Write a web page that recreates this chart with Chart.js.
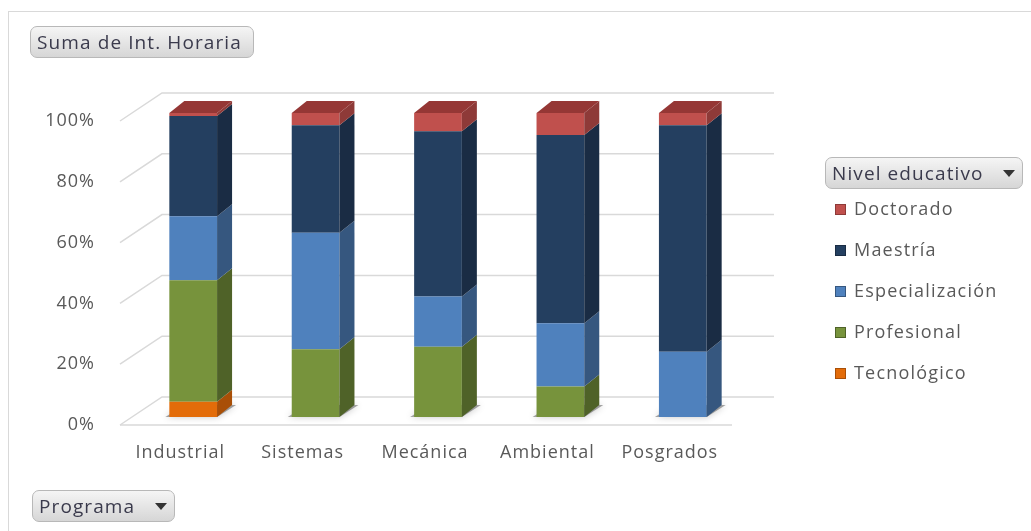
<!DOCTYPE html>
<html>
<head>
<meta charset="utf-8">
<script src="https://cdn.jsdelivr.net/npm/chart.js@4.4.0/dist/chart.umd.min.js"></script>
<style>
  html, body { margin: 0; padding: 0; background: #fff; }
  body { width: 1031px; height: 531px; position: relative; overflow: hidden; font-family: 'Open Sans', sans-serif; }
  #frame { position: absolute; left: 8px; top: 11px; width: 1040px; height: 540px; border: 1px solid #d9d9d9; box-sizing: border-box; }
  #chart { position: absolute; left: 0; top: 0; }
  .btn { position: absolute; height: 32px; box-sizing: border-box; border: 1px solid #b8b8b8; border-radius: 7px;
         background: linear-gradient(#f5f5f5, #d6d6d6); color: #3a3a4c; font-size: 19px; letter-spacing: 1.1px;
         line-height: 30px; padding-left: 6px; white-space: nowrap; }
  .arrow { position: absolute; top: 12px; width: 0; height: 0; border-left: 6px solid transparent; border-right: 6px solid transparent; border-top: 7px solid #333; }
  #legend { position: absolute; left: 835px; top: 188px; }
  .item { position: relative; height: 41px; line-height: 41px; font-size: 18px; letter-spacing: 1.2px; color: #595959; padding-left: 19px; white-space: nowrap; }
  .mark { position: absolute; left: 0; top: 16px; width: 9px; height: 9px; border: 1px solid; }
</style>
</head>
<body>
<div id="frame"></div>
<canvas id="chart" width="1031" height="531"></canvas>
<div class="btn" style="left:30px; top:26px; width:224px;">Suma de Int. Horaria</div>
<div class="btn" style="left:825px; top:157px; width:198px;">Nivel educativo<span class="arrow" style="left:177px"></span></div>
<div class="btn" style="left:32px; top:490px; width:143px;">Programa<span class="arrow" style="left:122px"></span></div>
<div id="legend"></div>
<script>
// categorías (Programa)
const programas = ['Industrial', 'Sistemas', 'Mecánica', 'Ambiental', 'Posgrados'];

// porcentaje de la suma de intensidad horaria por nivel educativo
const tecnologico     = [5,  0,    0,    0,    0];
const profesional     = [40, 22.3, 23.1, 10,   0];
const especializacion = [21, 38.3, 16.5, 20.8, 21.5];
const maestria        = [33, 35.4, 54.4, 62,   74.5];
const doctorado       = [1,  4,    6,    7.2,  4];

const yTicks = [0, 20, 40, 60, 80, 100];

// colores: cara frontal, cara lateral, tapa
const series = [
    { label: 'Tecnológico',     data: tecnologico,     front: '#E36C09', side: '#A94F07', top: '#C55E08' },
    { label: 'Profesional',     data: profesional,     front: '#77933C', side: '#4F6228', top: '#5F7830' },
    { label: 'Especialización', data: especializacion, front: '#4F81BD', side: '#36577F', top: '#3F6A9E' },
    { label: 'Maestría',        data: maestria,        front: '#243F60', side: '#1A2C44', top: '#1E3552' },
    { label: 'Doctorado',       data: doctorado,       front: '#C0504D', side: '#8E3A38', top: '#953735' }
];

// profundidad de las barras y del "cubo" 3D
const DX = 15, DY = 12;
const FX = -12, FY = 8;   // plano frontal respecto al plano de las barras
const BX = 30, BY = -20;  // pared del fondo

const grid3d = {
    id: 'grid3d',
    beforeDraw(chart) {
        chart.ctx.letterSpacing = '1px';
    },
    beforeDatasetsDraw(chart) {
        const ctx = chart.ctx;
        const ys = chart.scales.y;
        const area = chart.chartArea;
        ctx.save();
        ctx.strokeStyle = '#d9d9d9';
        ctx.lineWidth = 1.5;
        yTicks.forEach(v => {
            const y = ys.getPixelForValue(v);
            ctx.beginPath();
            ctx.moveTo(area.left + FX, y + FY);
            ctx.lineTo(area.left + BX, y + BY);
            ctx.lineTo(area.right + BX, y + BY);
            ctx.stroke();
            if (v === 0) {
                ctx.beginPath();
                ctx.moveTo(area.left + FX, y + FY);
                ctx.lineTo(area.right + FX, y + FY);
                ctx.stroke();
            }
        });
        // sombra suave en el piso
        const base = ys.getPixelForValue(0);
        const meta = chart.getDatasetMeta(0);
        ctx.fillStyle = 'rgba(80,80,80,0.5)';
        ctx.shadowColor = 'rgba(0,0,0,0.45)';
        ctx.shadowBlur = 7;
        meta.data.forEach(el => {
            const x0 = el.x - el.width / 2, x1 = el.x + el.width / 2;
            ctx.beginPath();
            ctx.moveTo(x0 - 4, base);
            ctx.lineTo(x1, base);
            ctx.lineTo(x1 + DX + 4, base - DY);
            ctx.lineTo(x0 + DX, base - DY);
            ctx.closePath();
            ctx.fill();
        });
        ctx.restore();
    },
    afterDatasetsDraw(chart) {
        const ctx = chart.ctx;
        ctx.save();
        programas.forEach((p, i) => {
            let topSeg = null;
            series.forEach((s, d) => {
                if (!s.data[i]) return;
                const el = chart.getDatasetMeta(d).data[i];
                const x1 = el.x + el.width / 2;
                const yTop = Math.min(el.y, el.base);
                const yBot = Math.max(el.y, el.base);
                ctx.fillStyle = s.side;
                ctx.beginPath();
                ctx.moveTo(x1, yTop);
                ctx.lineTo(x1 + DX, yTop - DY);
                ctx.lineTo(x1 + DX, yBot - DY);
                ctx.lineTo(x1, yBot);
                ctx.closePath();
                ctx.fill();
                topSeg = { el, s, yTop };
            });
            if (topSeg) {
                const x0 = topSeg.el.x - topSeg.el.width / 2;
                const x1 = topSeg.el.x + topSeg.el.width / 2;
                ctx.fillStyle = topSeg.s.top;
                ctx.beginPath();
                ctx.moveTo(x0, topSeg.yTop);
                ctx.lineTo(x1, topSeg.yTop);
                ctx.lineTo(x1 + DX, topSeg.yTop - DY);
                ctx.lineTo(x0 + DX, topSeg.yTop - DY);
                ctx.closePath();
                ctx.fill();
            }
        });
        ctx.restore();
    }
};

// leyenda (orden inverso, como en Excel)
const legend = document.getElementById('legend');
series.slice().reverse().forEach(s => {
    const item = document.createElement('div');
    item.className = 'item';
    item.innerHTML = '<span class="mark" style="background:' + s.front + ';border-color:' + s.side + '"></span>' + s.label;
    legend.appendChild(item);
});

const axisFont = { family: "'Open Sans', sans-serif", size: 18 };

new Chart(document.getElementById('chart'), {
    type: 'bar',
    data: {
        labels: programas,
        datasets: series.map(s => ({
            label: s.label,
            data: s.data,
            backgroundColor: s.front,
            borderWidth: 0,
            categoryPercentage: 1,
            barPercentage: 0.39
        }))
    },
    plugins: [grid3d],
    options: {
        responsive: false,
        animation: false,
        layout: { padding: { top: 113, bottom: 54, left: 0, right: 287 } },
        scales: {
            x: {
                stacked: true,
                grid: { display: false, drawTicks: false },
                border: { display: false },
                ticks: { color: '#595959', font: axisFont, padding: 25, labelOffset: -13 },
                afterFit: s => { s.height = 60; }
            },
            y: {
                stacked: true,
                min: 0,
                max: 100,
                grid: { display: false, drawTicks: false },
                border: { display: false },
                ticks: { stepSize: 20, color: '#595959', font: axisFont, padding: 37, labelOffset: 8,
                         callback: v => v + '%' },
                afterFit: s => { s.width = 132; }
            }
        },
        plugins: {
            legend: { display: false },
            tooltip: { enabled: false }
        }
    }
});
</script>
</body>
</html>
